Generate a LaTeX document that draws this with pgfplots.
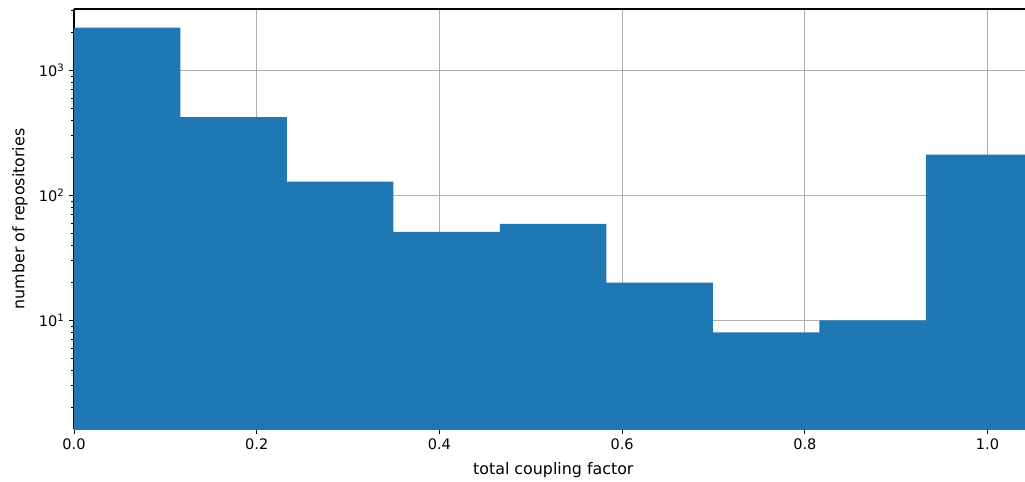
\documentclass[border=0pt]{standalone}
\usepackage{fontspec}
\setmainfont{DejaVu Sans}
\usepackage{pgfplots}
\pgfplotsset{compat=1.18}
\definecolor{mplblue}{HTML}{1F77B4}
\definecolor{gridgray}{HTML}{B0B0B0}
\begin{document}
\begin{tikzpicture}
\begin{axis}[
  scale only axis,
  width=713.25pt, height=315pt,
  xmin=0, xmax=1.041,
  ymode=log, ymin=1.35, ymax=3100,
  axis x line*=box, axis y line*=left,
  xtick pos=left,
  axis line style={line width=0.8pt, black},
  xtick={0,0.2,0.4,0.6,0.8,1.0},
  xticklabels={0.0,0.2,0.4,0.6,0.8,1.0},
  ytick={10,100,1000},
  yticklabels={10\textsuperscript{1},10\textsuperscript{2},10\textsuperscript{3}},
  minor ytick={2,3,4,5,6,7,8,9,20,30,40,50,60,70,80,90,200,300,400,500,600,700,800,900,2000,3000},
  tick align=outside,
  major tick length=3.6pt, minor tick length=2.1pt,
  every tick/.style={black, line width=0.6pt},
  grid=major,
  major grid style={gridgray, line width=0.6pt},
  minor grid style={draw=none},
  tick label style={font=\fontsize{10.9}{12}\selectfont},
  every axis y label/.style={at={(axis description cs:-0.0568,0.5)},rotate=90,anchor=center,font=\fontsize{11.9}{14}\selectfont},
  every axis x label/.style={at={(axis description cs:0.504,-0.0977)},anchor=center,font=\fontsize{11.9}{14}\selectfont},
  xlabel={total coupling factor},
  ylabel={number of repositories},
]
\addplot[ybar interval, fill=mplblue, draw=none] coordinates {
  (0,2196) (0.11656,423) (0.23312,129) (0.34968,51) (0.46624,59)
  (0.5828,20) (0.69936,8) (0.81592,10) (0.93248,212) (1.0490,212)
};
\end{axis}
\pgfresetboundingbox
\path[use as bounding box] (-55.5pt,-39.75pt) rectangle (713.25pt,321.75pt);
\end{tikzpicture}
\end{document}
